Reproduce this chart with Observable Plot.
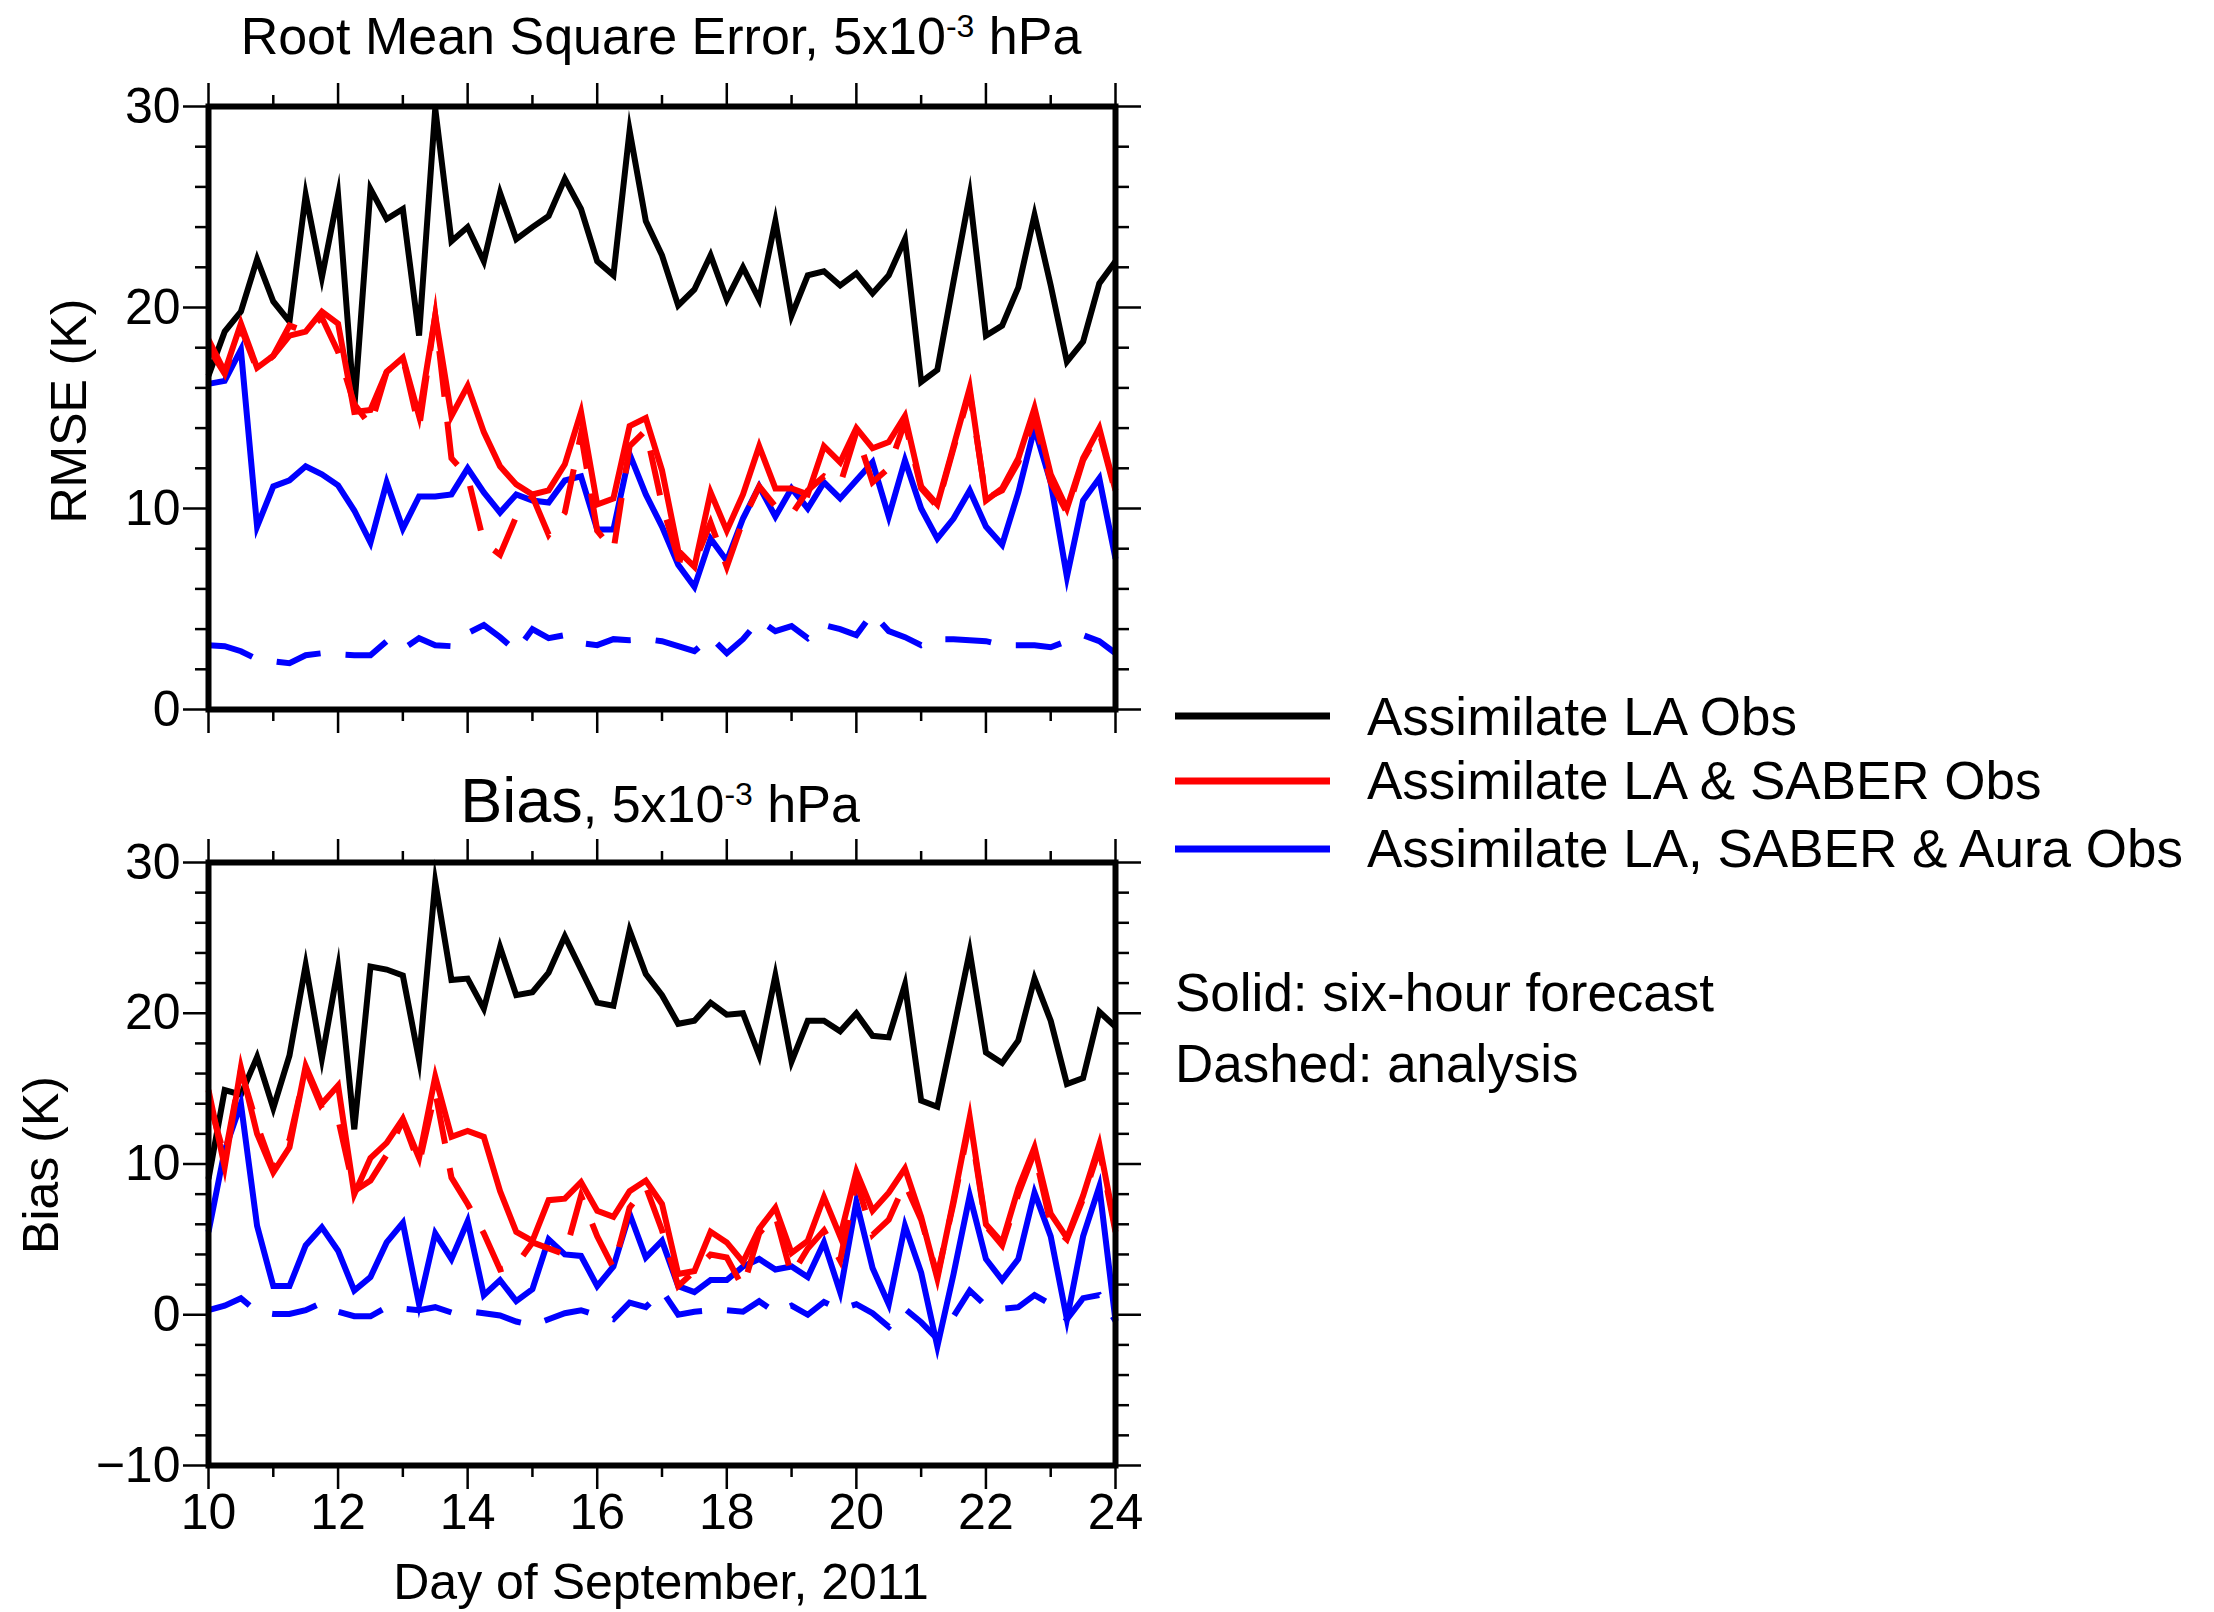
<!DOCTYPE html>
<html><head><meta charset="utf-8">
<script src="https://cdn.jsdelivr.net/npm/d3@7"></script>
<script src="https://cdn.jsdelivr.net/npm/@observablehq/plot@0.6"></script>
<style>
html,body{margin:0;padding:0;background:#fff;}
#root{position:relative;width:2214px;height:1612px;overflow:hidden;font-family:"Liberation Sans",Arial,Helvetica,sans-serif;background:#fff;}
#root svg{position:absolute;overflow:visible;}
</style></head><body><div id="root"></div>
<script>
// Day of September 2011, every six hours
const days = [
  10, 10.25, 10.5, 10.75, 11, 11.25, 11.5, 11.75, 12, 12.25, 12.5, 12.75,
  13, 13.25, 13.5, 13.75, 14, 14.25, 14.5, 14.75, 15, 15.25, 15.5, 15.75,
  16, 16.25, 16.5, 16.75, 17, 17.25, 17.5, 17.75, 18, 18.25, 18.5, 18.75,
  19, 19.25, 19.5, 19.75, 20, 20.25, 20.5, 20.75, 21, 21.25, 21.5, 21.75,
  22, 22.25, 22.5, 22.75, 23, 23.25, 23.5, 23.75, 24
];

// RMSE (K), 5x10^-3 hPa
const rmseLA = [
  16.6, 18.8, 19.8, 22.4,  20.3, 19.3, 25.6, 21.5,  25.6, 15.0, 25.9, 24.4,
  24.9, 18.6, 29.9, 23.3,  24.0, 22.3, 25.7, 23.4,  24.0, 24.55, 26.4, 24.9,
  22.3, 21.6, 28.8, 24.3,  22.6, 20.1, 20.9, 22.6,  20.4, 22.0, 20.4, 24.3,
  19.6, 21.6, 21.8, 21.1,  21.7, 20.7, 21.6, 23.4,  16.3, 16.9, 21.3, 25.6,
  18.6, 19.1, 21.0, 24.6,  21.1, 17.3, 18.3, 21.2,  22.3
];
const rmseSaberFcst = [
  18.4, 16.8, 19.2, 17.0,  17.6, 18.6, 18.8, 19.8,  19.2, 14.8, 14.9, 16.8,
  17.5, 14.6, 19.6, 14.6,  16.1, 13.8, 12.1, 11.2,  10.7, 10.9, 12.2, 14.8,
  10.2, 10.5, 14.1, 14.5,  11.9, 7.9, 7.1, 10.8,  8.9, 10.7, 13.1, 11.0,
  11.0, 10.7, 13.1, 12.3,  14.0, 13.0, 13.3, 14.6,  11.1, 10.2, 13.1, 16.0,
  10.4, 11.0, 12.5, 15.0,  11.7, 10.0, 12.5, 14.0,  10.9
];
const rmseSaberAnl = [
  18.0, 16.7, 19.0, 16.9,  17.6, 19.1, 18.8, 19.5,  17.8, 15.2, 14.1, 16.8,
  17.5, 14.0, 19.6, 12.5,  11.6, 8.3, 7.7, 9.6,  10.6, 8.7, 9.8, 13.7,
  8.9, 7.9, 13.1, 13.9,  10.2, 7.5, 7.3, 9.3,  7.1, 9.4, 11.1, 10.1,
  9.7, 10.9, 11.6, 11.2,  13.8, 11.3, 12.0, 14.3,  11.0, 10.1, 13.0, 15.8,
  10.5, 10.9, 12.3, 14.5,  11.3, 9.8, 12.4, 13.8,  10.8
];
const rmseAuraFcst = [
  16.2, 16.35, 17.9, 9.1,  11.1, 11.4, 12.1, 11.7,  11.15, 9.9, 8.3, 11.3,
  9.0, 10.6, 10.6, 10.7,  12.0, 10.8, 9.8, 10.7,  10.4, 10.3, 11.4, 11.6,
  8.95, 8.95, 12.7, 10.7,  9.1, 7.2, 6.1, 8.5,  7.4, 9.5, 11.1, 9.6,
  11.0, 10.0, 11.3, 10.5,  11.4, 12.3, 9.6, 12.4,  10.0, 8.5, 9.5, 10.9,
  9.1, 8.2, 10.8, 14.0,  11.3, 6.6, 10.4, 11.5,  7.5
];
const rmseAuraAnl = [
  3.2, 3.15, 2.9, 2.5,  2.4, 2.3, 2.7, 2.8,  2.75, 2.7, 2.7, 3.4,
  3.0, 3.55, 3.2, 3.15,  3.8, 4.2, 3.6, 2.9,  4.0, 3.55, 3.7, 3.3,
  3.2, 3.5, 3.45, 3.5,  3.4, 3.15, 2.9, 3.6,  2.8, 3.5, 4.45, 3.9,
  4.15, 3.55, 4.2, 4.0,  3.7, 4.8, 3.9, 3.6,  3.2, 3.5, 3.5, 3.45,
  3.4, 3.2, 3.2, 3.2,  3.1, 3.4, 3.7, 3.4,  2.8
];

// Bias (K), 5x10^-3 hPa
const biasLA = [
  9.0, 14.9, 14.6, 17.1,  13.7, 17.2, 23.2, 17.0,  23.0, 12.3, 23.1, 22.9,
  22.5, 16.9, 28.7, 22.2,  22.3, 20.3, 24.4, 21.2,  21.4, 22.7, 25.1, 22.9,
  20.7, 20.5, 25.5, 22.6,  21.2, 19.3, 19.5, 20.7,  19.9, 20.0, 17.2, 22.5,
  16.8, 19.5, 19.5, 18.8,  20.0, 18.5, 18.4, 21.9,  14.2, 13.8, 18.9, 24.1,
  17.4, 16.7, 18.2, 22.3,  19.5, 15.3, 15.7, 20.1,  19.1
];
const biasSaberFcst = [
  14.9, 9.8, 16.4, 12.0,  9.45, 11.1, 16.5, 14.0,  15.2, 8.0, 10.4, 11.4,
  13.0, 10.4, 15.8, 11.8,  12.2, 11.8, 8.2, 5.5,  4.9, 7.6, 7.7, 8.8,
  6.9, 6.5, 8.2, 8.9,  7.35, 2.7, 2.9, 5.5,  4.8, 3.5, 5.7, 7.1,
  4.1, 4.9, 7.8, 5.2,  9.5, 6.9, 8.1, 9.7,  6.5, 2.4, 7.6, 13.1,
  6.0, 4.8, 8.4, 11.1,  6.7, 5.1, 7.9, 11.3,  5.7
];
const biasSaberAnl = [
  14.3, 10.5, 16.2, 12.6,  9.6, 11.6, 16.3, 13.7,  13.0, 8.2, 8.9, 10.6,
  12.9, 10.0, 14.8, 9.1,  7.35, 5.4, 3.0, 3.3,  4.8, 4.4, 4.0, 7.9,
  5.2, 3.1, 7.1, 8.5,  5.6, 1.9, 2.9, 4.0,  3.8, 1.8, 5.4, 6.6,
  2.6, 4.4, 5.6, 3.6,  8.9, 5.3, 6.3, 8.7,  6.3, 2.6, 7.4, 12.8,
  5.9, 4.6, 8.0, 10.8,  6.0, 5.0, 7.7, 11.0,  5.5
];
const biasAuraFcst = [
  5.5, 10.9, 14.0, 5.9,  1.9, 1.9, 4.6, 5.8,  4.25, 1.6, 2.5, 4.8,
  6.1, 0.7, 5.4, 3.7,  6.2, 1.3, 2.3, 0.9,  1.7, 5.0, 4.0, 3.9,
  1.9, 3.2, 6.7, 3.8,  4.9, 1.9, 1.5, 2.3,  2.3, 3.2, 3.7, 3.0,
  3.2, 2.5, 4.8, 1.5,  7.5, 3.1, 0.7, 5.9,  2.8, -2.1, 2.7, 7.9,
  3.7, 2.3, 3.7, 8.1,  5.2, -0.3, 5.2, 8.5,  -0.4
];
const biasAuraAnl = [
  0.3, 0.6, 1.1, 0.2,  0.05, 0.05, 0.3, 0.8,  0.2, -0.1, -0.1, 0.5,
  0.4, 0.3, 0.5, 0.15,  0.25, 0.1, -0.05, -0.45,  -0.7, -0.3, 0.1, 0.3,
  -0.05, -0.3, 0.8, 0.5,  1.6, 0.0, 0.2, 0.3,  0.3, 0.2, 0.9, 0.15,
  0.6, 0.0, 0.85, 0.35,  0.7, 0.1, -0.8, 0.4,  -0.5, -1.6, -0.1, 1.6,
  0.6, 0.4, 0.5, 1.3,  0.7, -0.3, 1.1, 1.3,  -0.4
];

// axis ticks
const xMajorTicks = [10, 12, 14, 16, 18, 20, 22, 24];
const xMinorTicks = [11, 13, 15, 17, 19, 21, 23];
const rmseMajorTicks = [0, 10, 20, 30];
const rmseMinorTicks = [2, 4, 6, 8, 12, 14, 16, 18, 22, 24, 26, 28];
const biasMajorTicks = [-10, 0, 10, 20, 30];
const biasMinorTicks = [-8, -6, -4, -2, 2, 4, 6, 8, 12, 14, 16, 18, 22, 24, 26, 28];

// legend
const legendNames = ["Assimilate LA Obs", "Assimilate LA & SABER Obs", "Assimilate LA, SABER & Aura Obs"];
const legendColors = ["#000000", "#ff0000", "#0000ff"];

const toRows = vals => days.map((d, i) => ({day: d, value: vals[i]}));

function lineMark(vals, color, dashed) {
  return Plot.line(toRows(vals), {
    x: "day", y: "value", stroke: color, strokeWidth: 6,
    strokeDasharray: dashed ? "46,25" : null,
    strokeLinejoin: "miter", strokeLinecap: "butt", strokeMiterlimit: 10
  });
}

function panel(opts) {
  const blank = () => "";
  const tw = 2.5;
  return Plot.plot({
    width: 1250, height: opts.height,
    marginLeft: 208, marginRight: 135, marginTop: opts.mTop, marginBottom: opts.mBottom,
    x: {domain: [10, 24], label: null},
    y: {domain: opts.yDomain, label: null},
    style: {fontFamily: '"Liberation Sans", Arial, Helvetica, sans-serif', color: "black", background: "transparent", overflow: "visible"},
    marks: [
      Plot.axisY({anchor: "left", ticks: opts.yMinor, tickSize: 13, tickFormat: blank, strokeWidth: tw, label: null}),
      Plot.axisY({anchor: "left", ticks: opts.yMajor, tickSize: 25, tickPadding: 3, fontSize: 50, strokeWidth: tw, label: null}),
      Plot.axisY({anchor: "right", ticks: opts.yMinor, tickSize: 13, tickFormat: blank, strokeWidth: tw, label: null}),
      Plot.axisY({anchor: "right", ticks: opts.yMajor, tickSize: 25, tickFormat: blank, strokeWidth: tw, label: null}),
      Plot.axisX({anchor: "top", ticks: xMinorTicks, tickSize: 12, tickFormat: blank, strokeWidth: tw, label: null}),
      Plot.axisX({anchor: "top", ticks: xMajorTicks, tickSize: 24, tickFormat: blank, strokeWidth: tw, label: null}),
      Plot.axisX({anchor: "bottom", ticks: xMinorTicks, tickSize: 12, tickFormat: blank, strokeWidth: tw, label: null}),
      Plot.axisX({anchor: "bottom", ticks: xMajorTicks, tickSize: 24, tickPadding: 4, fontSize: 50,
                  tickFormat: opts.xLabels ? (d => String(d)) : blank, strokeWidth: tw, label: null}),
      lineMark(opts.black, legendColors[0], false),
      lineMark(opts.blueA, legendColors[2], true),
      lineMark(opts.blueF, legendColors[2], false),
      lineMark(opts.redA, legendColors[1], true),
      lineMark(opts.redF, legendColors[1], false),
      Plot.frame({stroke: "black", strokeWidth: 6})
    ]
  });
}

const root = document.getElementById("root");

const rmsePanel = panel({height: 760, mTop: 106, mBottom: 51, yDomain: [0, 30],
  yMajor: rmseMajorTicks, yMinor: rmseMinorTicks, xLabels: false,
  black: rmseLA, redF: rmseSaberFcst, redA: rmseSaberAnl, blueF: rmseAuraFcst, blueA: rmseAuraAnl});
rmsePanel.style.left = "0px"; rmsePanel.style.top = "0px";
root.appendChild(rmsePanel);

const biasPanel = panel({height: 852, mTop: 102, mBottom: 147, yDomain: [-10, 30],
  yMajor: biasMajorTicks, yMinor: biasMinorTicks, xLabels: true,
  black: biasLA, redF: biasSaberFcst, redA: biasSaberAnl, blueF: biasAuraFcst, blueA: biasAuraAnl});
biasPanel.style.left = "0px"; biasPanel.style.top = "760px";
root.appendChild(biasPanel);

// overlay: titles, axis titles, legend
const NS = "http://www.w3.org/2000/svg";
const ov = document.createElementNS(NS, "svg");
ov.setAttribute("width", 2214); ov.setAttribute("height", 1612);
ov.style.left = "0px"; ov.style.top = "0px";
ov.setAttribute("font-family", '"Liberation Sans", Arial, Helvetica, sans-serif');
ov.innerHTML = `
  <text x="661" y="54" text-anchor="middle" font-size="52">Root Mean Square Error, 5x10<tspan font-size="32" dy="-17">-3</tspan><tspan dy="17"> hPa</tspan></text>
  <text x="660" y="822" text-anchor="middle"><tspan font-size="63">Bias</tspan><tspan font-size="52">, 5x10</tspan><tspan font-size="32" dy="-17">-3</tspan><tspan font-size="52" dy="17"> hPa</tspan></text>
  <text transform="translate(86,411) rotate(-90)" text-anchor="middle" font-size="50">RMSE (K)</text>
  <text transform="translate(58,1165) rotate(-90)" text-anchor="middle" font-size="50">Bias (K)</text>
  <text x="661" y="1599" text-anchor="middle" font-size="50">Day of September, 2011</text>
  <text x="1175" y="1011" font-size="53">Solid: six-hour forecast</text>
  <text x="1175" y="1082" font-size="53">Dashed: analysis</text>
`;
const legY = [716, 781, 849];
const legTextY = [735, 799, 867];
legendNames.forEach((name, i) => {
  const ln = document.createElementNS(NS, "line");
  ln.setAttribute("x1", 1175); ln.setAttribute("x2", 1330);
  ln.setAttribute("y1", legY[i]); ln.setAttribute("y2", legY[i]);
  ln.setAttribute("stroke", legendColors[i]); ln.setAttribute("stroke-width", 7);
  ov.appendChild(ln);
  const t = document.createElementNS(NS, "text");
  t.setAttribute("x", 1367); t.setAttribute("y", legTextY[i]);
  t.setAttribute("font-size", 53);
  t.textContent = name;
  ov.appendChild(t);
});
root.appendChild(ov);
</script>
</body></html>
